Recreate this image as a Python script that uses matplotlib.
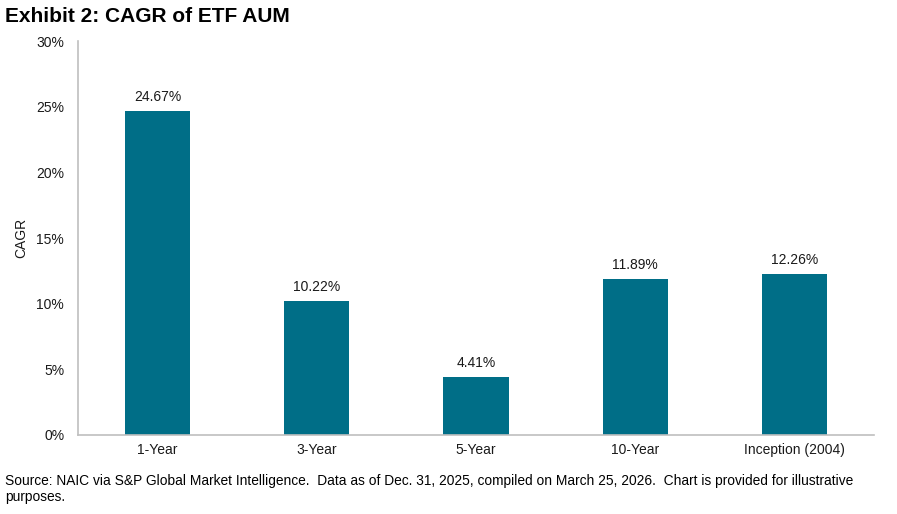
import matplotlib.pyplot as plt
from matplotlib.ticker import PercentFormatter

plt.rcParams['font.family'] = ['Liberation Sans', 'DejaVu Sans']

# Data
periods = ['1-Year', '3-Year', '5-Year', '10-Year', 'Inception (2004)']
cagr = [24.67, 10.22, 4.41, 11.89, 12.26]

bar_color = '#006E87'
spine_color = '#BFBFBF'
text_color = '#1a1a1a'

fig = plt.figure(figsize=(8.97, 5.14), dpi=100)
ax = fig.add_axes([0.087, 0.1537, 0.8874, 0.7663])

x = range(len(periods))
bars = ax.bar(x, cagr, width=0.41, color=bar_color)

# value labels above each bar
for rect, v in zip(bars, cagr):
    ax.annotate(f'{v:.2f}%', (rect.get_x() + rect.get_width() / 2, v),
                xytext=(0, 5), textcoords='offset points',
                ha='center', va='bottom', fontsize=10, color=text_color)

ax.set_xlim(-0.5, len(periods) - 0.5)
ax.set_ylim(0, 30)
ax.set_yticks(range(0, 31, 5))
ax.yaxis.set_major_formatter(PercentFormatter(decimals=0))
ax.set_xticks(list(x))
ax.set_xticklabels(periods)
ax.tick_params(axis='both', length=0, labelsize=10, colors=text_color)
ax.tick_params(axis='x', pad=6)
ax.tick_params(axis='y', pad=10)

for side in ['top', 'right']:
    ax.spines[side].set_visible(False)
for side in ['left', 'bottom']:
    ax.spines[side].set_color(spine_color)
    ax.spines[side].set_linewidth(1.2)

ax.set_ylabel('CAGR', fontsize=10, color=text_color, labelpad=6)

fig.text(0.006, 0.967, 'Exhibit 2: CAGR of ETF AUM', fontsize=15, fontweight='bold',
         ha='left', va='center')
fig.text(0.006, 0.048, 'Source: NAIC via S&P Global Market Intelligence.  Data as of Dec. 31, 2025, '
         'compiled on March 25, 2026.  Chart is provided for illustrative\npurposes.',
         fontsize=9.9, ha='left', va='center', linespacing=1.2)

fig.savefig('out.png', dpi=100)
